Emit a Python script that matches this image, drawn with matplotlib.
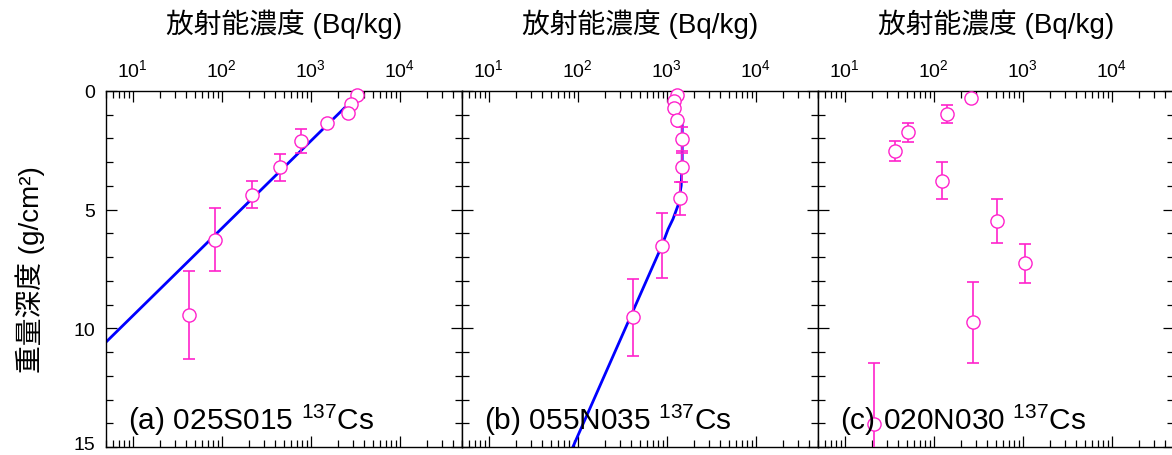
import matplotlib
matplotlib.use('Agg')
import matplotlib.pyplot as plt
import matplotlib.transforms as mtransforms
from matplotlib.ticker import MultipleLocator, LogLocator

plt.rcParams['font.family'] = ['Liberation Sans', 'Noto Sans CJK JP']
plt.rcParams['mathtext.fontset'] = 'custom'
plt.rcParams['mathtext.rm'] = 'Liberation Sans'
plt.rcParams['mathtext.it'] = 'Liberation Sans:italic'

# (a) 025S015
conc_a = [3340, 2860, 2650, 1510, 773, 456, 217, 83, 43]
depth_a = [0.17, 0.55, 0.93, 1.35, 2.1, 3.22, 4.37, 6.27, 9.44]
err_a = [0, 0, 0, 0, 0.51, 0.57, 0.56, 1.33, 1.84]
fit_a_conc = [2380, 5]
fit_a_depth = [0.72, 10.58]

# (b) 055N035
conc_b = [1310, 1200, 1200, 1310, 1490, 1490, 1413, 880, 419]
depth_b = [0.155, 0.43, 0.73, 1.21, 2.02, 3.22, 4.52, 6.52, 9.54]
err_b = [0, 0, 0, 0, 0.52, 0.6, 0.7, 1.36, 1.63]
fit_b_conc = [1490, 1490, 1452, 1334, 1175, 1035, 880, 88]
fit_b_depth = [1.46, 2.87, 3.99, 4.83, 5.39, 5.82, 6.52, 15.0]

# (c) 020N030
conc_c = [265, 139, 51.5, 36.5, 125, 515, 1050, 274, 21.2]
depth_c = [0.295, 0.97, 1.73, 2.54, 3.78, 5.49, 7.25, 9.75, 14.03]
err_c = [0, 0.38, 0.4, 0.43, 0.79, 0.92, 0.82, 1.7, 2.57]

labels = ['(a) 025S015', '(b) 055N035', '(c) 020N030']

magenta = '#ff22cc'

fig = plt.figure(figsize=(11.72, 4.56), dpi=100)

W = 1172.0
H = 456.0
lefts = [106, 462, 818]
axes = []
for x0 in lefts:
    ax = fig.add_axes([x0 / W, 8 / H, 356 / W, 356 / H])
    axes.append(ax)

panels = [
    (conc_a, depth_a, err_a, fit_a_conc, fit_a_depth),
    (conc_b, depth_b, err_b, fit_b_conc, fit_b_depth),
    (conc_c, depth_c, err_c, None, None),
]

for i, (ax, (c, d, e, fc, fd)) in enumerate(zip(axes, panels)):
    if fc is not None:
        ax.plot(fc, fd, color='#0000ff', lw=2.0, zorder=2)
    ax.errorbar(c, d, yerr=e, fmt='none', ecolor=magenta, elinewidth=1.2,
                capsize=4, capthick=1.2, zorder=3)
    ax.plot(c, d, 'o', ms=9.5, mfc='white', mec=magenta, mew=1.0,
            zorder=4, clip_on=False)

    ax.set_xscale('log')
    ax.set_xlim(5, 5e4)
    ax.set_ylim(15, 0)
    ax.xaxis.set_major_locator(LogLocator(base=10, numticks=10))
    ax.yaxis.set_major_locator(MultipleLocator(5))
    ax.yaxis.set_minor_locator(MultipleLocator(1))
    ax.tick_params(which='both', direction='in', top=True, bottom=True,
                   left=True, right=True, labeltop=True, labelbottom=False,
                   width=0.9, labelsize=14, pad=8)
    ax.tick_params(which='major', length=8)
    ax.tick_params(which='minor', length=5)
    if i > 0:
        ax.tick_params(labelleft=False)
    for s in ax.spines.values():
        s.set_linewidth(1.0)

    ax.xaxis.set_label_position('top')
    ax.set_xlabel('放射能濃度 (Bq/kg)', fontsize=20, labelpad=19)

    ax.text(0.062, 0.05, labels[i] + r' $^{\mathdefault{137}}$Cs',
            transform=ax.transAxes, fontsize=21.5, va='baseline', zorder=5)

axes[0].set_ylabel('重量深度 (g/cm²)', fontsize=20, labelpad=20)

# nudge the bottom depth label up so it stays inside the figure
fig.canvas.draw()
last = axes[0].yaxis.get_major_ticks()[-1]
for t in axes[0].yaxis.get_major_ticks():
    if abs(t.get_loc() - 15) < 1e-9:
        last = t
shift = mtransforms.ScaledTranslation(0, 3 / 72, fig.dpi_scale_trans)
last.label1.set_transform(last.label1.get_transform() + shift)

fig.savefig('out.png', dpi=100)
